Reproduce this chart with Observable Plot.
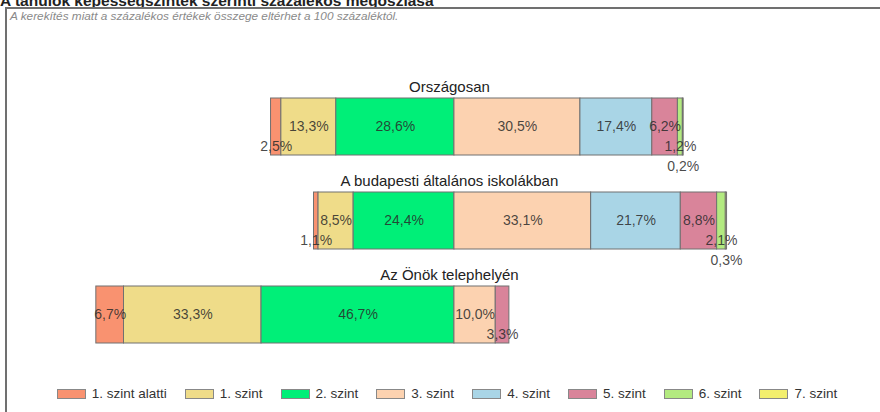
<!DOCTYPE html>
<html><head><meta charset="utf-8">
<script src="https://cdn.jsdelivr.net/npm/d3@7"></script>
<script src="https://cdn.jsdelivr.net/npm/@observablehq/plot@0.6"></script>
<style>
body{margin:0;width:880px;height:412px;overflow:hidden;position:relative;background:#fff;font-family:"Liberation Sans",Arial,sans-serif;}
#title{position:absolute;left:0;top:-6px;font-size:15.5px;font-weight:bold;line-height:14px;color:#222;white-space:nowrap;}
#box{position:absolute;left:5px;top:7px;width:900px;height:420px;border:2px solid #707070;box-sizing:border-box;}
#sub{position:absolute;left:10px;top:11px;font-size:11.8px;line-height:11px;font-style:italic;color:#8a8a8a;white-space:nowrap;}
#chart{position:absolute;left:0;top:0;}
#legend{position:absolute;left:7px;width:880px;top:387px;display:flex;justify-content:center;gap:18px;font-size:13.5px;line-height:14px;color:#333;}
.item{display:flex;align-items:center;gap:6px;}
.sw{width:29px;height:10px;border:1px solid #888;box-sizing:border-box;}
</style></head><body>
<div id="title">A tanulók képességszintek szerinti százalékos megoszlása</div>
<div id="box"></div>
<div id="sub">A kerekítés miatt a százalékos értékek összege eltérhet a 100 százaléktól.</div>
<div id="chart"></div>
<div id="legend"></div>
<script>
const categories = ["Országosan", "A budapesti általános iskolákban", "Az Önök telephelyén"];
const levels = ["1. szint alatti", "1. szint", "2. szint", "3. szint", "4. szint", "5. szint", "6. szint", "7. szint"];
const colors = ["#f99270", "#efdc89", "#00ef78", "#fcd2b0", "#a9d5e6", "#d9849a", "#b3ea80", "#f3ef6e"];
const orszagosan = [2.5, 13.3, 28.6, 30.5, 17.4, 6.2, 1.2, 0.2];
const budapest = [1.1, 8.5, 24.4, 33.1, 21.7, 8.8, 2.1, 0.3];
const telephely = [6.7, 33.3, 46.7, 10.0, 0, 3.3, 0, 0];
const seriesValues = [orszagosan, budapest, telephely];

// diverging stack: levels below "3. szint" to the left of zero
const rows = [];
categories.forEach((cat, ci) => {
  const vals = seriesValues[ci];
  let start = -(vals[0] + vals[1] + vals[2]);
  let k = 0;
  vals.forEach((v, li) => {
    const x1 = start, x2 = start + v;
    start = x2;
    if (v <= 0) return;
    k = v < 5 ? k + 1 : 0;
    rows.push({cat, level: levels[li], value: v, x1, x2, shift: k});
  });
});
const fmt = v => v.toFixed(1).replace(".", ",") + "%";

const valueText = (k) => Plot.text(rows, {
  x: d => (d.x1 + d.x2) / 2, y: "cat", text: d => fmt(d.value),
  dy: 20 * k, fontSize: 14, fill: "#2a2a2a", fillOpacity: 0.85,
  filter: d => d.shift === k
});

const chart = Plot.plot({
  width: 880, height: 412,
  marginLeft: 0, marginRight: 0, marginTop: 0, marginBottom: 0,
  style: {fontFamily: "Liberation Sans, Arial, sans-serif", background: "transparent"},
  x: {domain: [-109.9, 103.15], axis: null},
  y: {domain: categories, range: [79.5, 361.5], paddingInner: 0.394, paddingOuter: 0.197, axis: null},
  color: {domain: levels, range: colors},
  marks: [
    Plot.barX(rows, {x1: "x1", x2: "x2", y: "cat", fill: "level", stroke: "#707070", strokeWidth: 1, inset: 0}),
    valueText(0), valueText(1), valueText(2),
    Plot.text(categories, {x: () => 0, y: d => d, text: d => d, dy: -40, dx: -5, fontSize: 15, fill: "#222"})
  ]
});
document.getElementById("chart").appendChild(chart);

const legend = document.getElementById("legend");
levels.forEach((l, i) => {
  const it = document.createElement("div"); it.className = "item";
  const sw = document.createElement("div"); sw.className = "sw"; sw.style.background = colors[i];
  const tx = document.createElement("span"); tx.textContent = l;
  it.appendChild(sw); it.appendChild(tx); legend.appendChild(it);
});
</script>
</body></html>
